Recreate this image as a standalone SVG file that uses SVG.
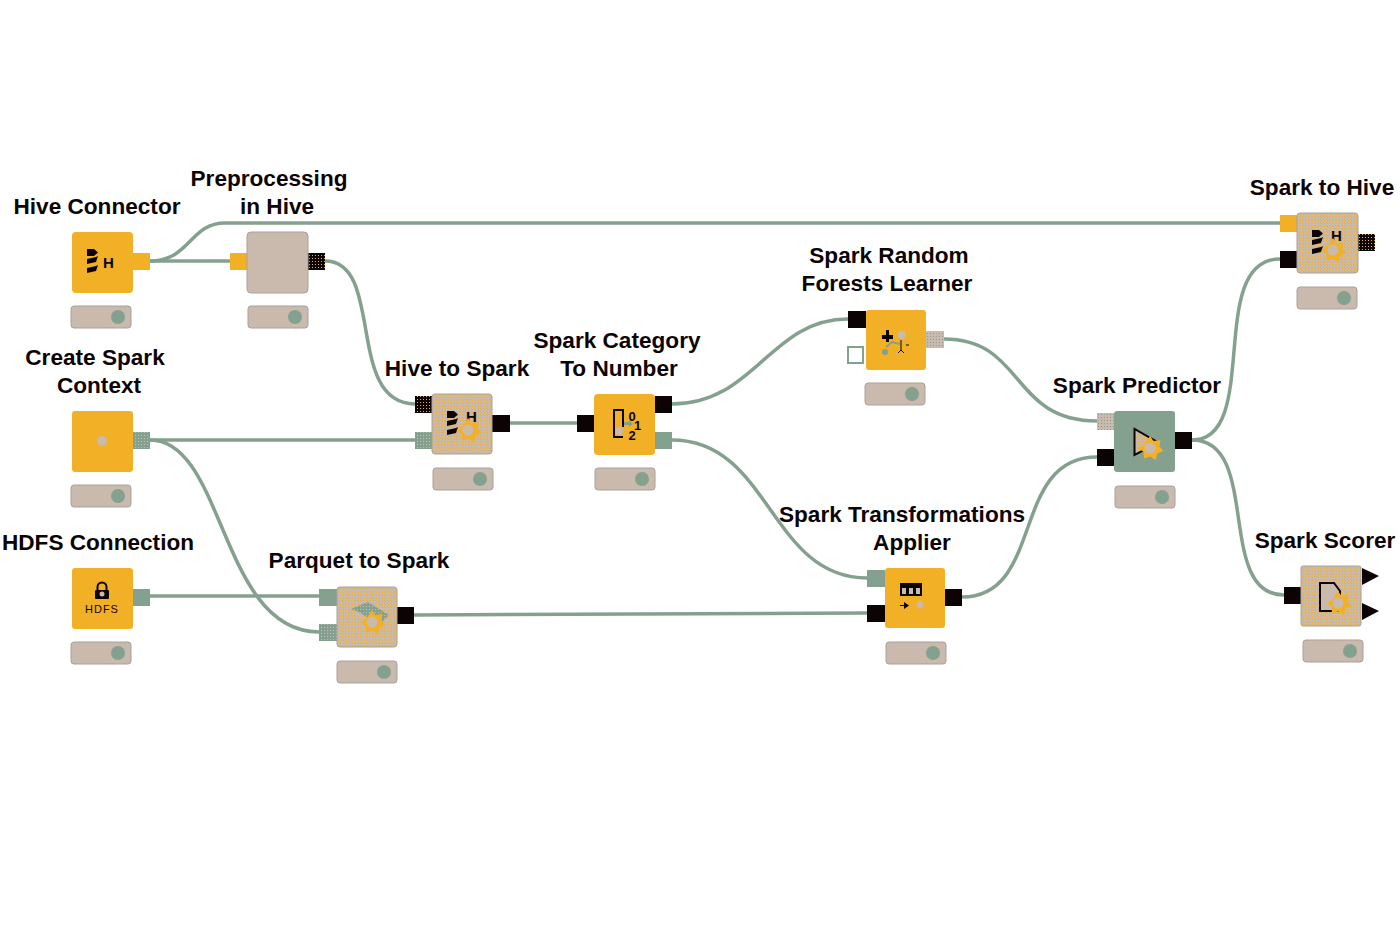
<svg xmlns="http://www.w3.org/2000/svg" width="1400" height="933" viewBox="0 0 1400 933">
<style>
text{font-family:"Liberation Sans",Arial,sans-serif;font-weight:700;font-size:22.6px;fill:#0c0404;text-anchor:middle}
.h{font-size:15px;font-weight:700}
.n{font-size:13px;font-weight:700}
.c{fill:none;stroke:#84a08f;stroke-width:3.5}
.body{stroke:#a8a29a;stroke-width:1}
.o{fill:#f2b027}.b{fill:#c9baad}.g{fill:#84a08f}.k{fill:#0c0404}
.di{fill:url(#dith)}.dg{fill:url(#dgreen)}.db{fill:url(#dbeige)}.dk{fill:url(#ddark)}
.bar{fill:#c9baad;stroke:#a8a29a;stroke-width:1}
.ic{fill:#0c0404}.ln{fill:none;stroke:#0c0404;stroke-width:2}
</style>
<defs>
<pattern id="dith" width="3" height="3" patternUnits="userSpaceOnUse"><rect width="3" height="3" fill="#c9baad"/><rect width="1" height="1" fill="#f2b027" shape-rendering="crispEdges"/><rect x="1" y="1" width="1" height="1" fill="#f2b027" shape-rendering="crispEdges"/></pattern>
<pattern id="dgreen" width="3" height="3" patternUnits="userSpaceOnUse"><rect width="3" height="3" fill="#84a08f"/><rect width="1" height="1" fill="#c9baad"/></pattern>
<pattern id="dbeige" width="3" height="3" patternUnits="userSpaceOnUse"><rect width="3" height="3" fill="#c9baad"/><rect width="1" height="1" fill="#84a08f"/></pattern>
<pattern id="ddark" width="3" height="3" patternUnits="userSpaceOnUse"><rect width="3" height="3" fill="#0c0404"/><rect width="1" height="1" fill="#f2b027"/></pattern>
<g id="hive"><path class="ic" d="M-15-13h7l4 3.500-4 3.500h-7z"/><path class="ic" d="M-15-3l9-2 2-1-2 6-9 2z"/><path class="ic" d="M-15 6l9-2 2-1-2 6-9 2z"/></g>
<g id="star"><path class="o" d="M0-12l3.500 5 7-1-1 6.500 4 4.500-6 2.500-2 6.500-5.500-3.500-6 2-.5-6.500-5-4 5.500-3z"/><circle r="5.500" fill="#c9baad"/></g>
<g id="bar"><rect class="bar" x="0" y="0" width="60" height="22" rx="3"/><circle class="g" cx="47" cy="11" r="7"/></g>
</defs>

<g id="connectors">
<path class="c" d="M150 261H230"/>
<path class="c" d="M150 261C190 261 190 223 225 223H1280"/>
<path class="c" d="M325 261C385 261 345 404 415 404"/>
<path class="c" d="M150 440H415"/>
<path class="c" d="M150 440C225 440 220 632 319 632"/>
<path class="c" d="M150 596H319"/>
<path class="c" d="M414 615L867 613"/>
<path class="c" d="M510 423H577"/>
<path class="c" d="M672 404C755 404 770 319 848 319"/>
<path class="c" d="M672 440C770 440 770 578 867 578"/>
<path class="c" d="M944 339C1025 339 1010 421 1097 421"/>
<path class="c" d="M962 597C1045 597 1010 457 1097 457"/>
<path class="c" d="M1192 440C1262 440 1205 259 1280 259"/>
<path class="c" d="M1192 440C1262 440 1215 595 1284 595"/>
</g>

<g id="hive-connector">
<text x="97" y="213.500">Hive Connector</text>
<rect class="o" x="133" y="253" width="17" height="17"/>
<rect class="o" x="72" y="232" width="61" height="61" rx="4"/>
<use href="#hive" x="102" y="262"/><text class="h" x="108.500" y="268">H</text>
<use href="#bar" x="71" y="306"/>
</g>
<g id="preprocessing-in-hive">
<text x="269" y="186">Preprocessing</text><text x="277" y="213.500">in Hive</text>
<rect class="o" x="230" y="253" width="17" height="17"/>
<rect class="dk" x="308" y="253" width="17" height="17"/>
<rect class="b body" x="247" y="232" width="61" height="61" rx="4"/>
<use href="#bar" x="248" y="306"/>
</g>
<g id="create-spark-context">
<text x="95" y="365">Create Spark</text><text x="99" y="392.500">Context</text>
<rect class="dg" x="133" y="432" width="17" height="17"/>
<rect class="o" x="72" y="411" width="61" height="61" rx="3"/>
<circle cx="102" cy="441" r="5" fill="#c9baad"/>
<use href="#bar" x="71" y="485"/>
</g>
<g id="hdfs-connection">
<text x="98" y="549.500">HDFS Connection</text>
<rect class="g" x="133" y="589" width="17" height="17"/>
<rect class="o" x="72" y="568" width="61" height="61" rx="3"/>
<path class="ln" d="M97.500 590v-3a4.500 4.500 0 0 1 9 0v3"/><rect class="ic" x="95" y="590" width="14" height="9" rx="1"/><circle cx="102" cy="594" r="2.500" fill="#c9baad"/>
<text class="h" x="102" y="613" style="font-size:11px;letter-spacing:1px;font-weight:400">HDFS</text>
<use href="#bar" x="71" y="642"/>
</g>
<g id="parquet-to-spark">
<text x="359" y="568">Parquet to Spark</text>
<rect class="g" x="319" y="589" width="18" height="17"/>
<rect class="dg" x="319" y="624" width="18" height="17"/>
<rect class="k" x="397" y="607" width="17" height="17"/>
<rect class="di body" x="337" y="587" width="60" height="60" rx="3"/>
<path class="dg" d="M368 602l21 13-10 10-20-13-8-3z"/>
<use href="#star" x="372" y="622"/>
<use href="#bar" x="337" y="661"/>
</g>
<g id="hive-to-spark">
<text x="457" y="376">Hive to Spark</text>
<rect class="dk" x="415" y="396" width="17" height="17"/>
<rect class="dg" x="415" y="432" width="17" height="17"/>
<rect class="k" x="492" y="415" width="18" height="17"/>
<rect class="di body" x="432" y="394" width="60" height="60" rx="3"/>
<use href="#hive" x="462" y="424"/><text class="h" x="471.500" y="422">H</text>
<use href="#star" x="468" y="430"/>
<use href="#bar" x="433" y="468"/>
</g>
<g id="spark-category-to-number">
<text x="617" y="348">Spark Category</text><text x="619" y="376">To Number</text>
<rect class="k" x="577" y="415" width="17" height="17"/>
<rect class="k" x="655" y="396" width="17" height="17"/>
<rect class="g" x="655" y="432" width="17" height="17"/>
<rect class="o" x="594" y="394" width="61" height="61" rx="4"/>
<path class="ln" d="M623 427v-17h-9v27h9"/>
<circle cx="619" cy="431" r="4" fill="#c9baad"/>
<path class="g" d="M624 422h5v-2l4 4-4 3v-2h-5z"/>
<text class="n" x="632" y="421">0</text><text class="n" x="637.500" y="430">1</text><text class="n" x="632" y="440">2</text>
<use href="#bar" x="595" y="468"/>
</g>
<g id="spark-random-forests-learner">
<text x="889" y="263">Spark Random</text><text x="887" y="291">Forests Learner</text>
<rect class="k" x="848" y="311" width="18" height="17"/>
<rect x="848" y="347" width="15" height="16" fill="#fff" stroke="#84a08f" stroke-width="2"/>
<rect class="db" x="926" y="331" width="18" height="17"/>
<rect class="o" x="866" y="310" width="60" height="60" rx="3"/>
<path class="ic" d="M882 335h4v-5h3v5h4v4h-4v3h-3v-3h-4z"/>
<circle cx="902" cy="335" r="4" fill="#c9baad"/>
<path fill="none" stroke="#84a08f" stroke-width="2" d="M886 347l6-5 8 2"/>
<circle cx="885" cy="352" r="3" fill="#84a08f"/>
<path fill="none" stroke="#0c0404" d="M901 340v10l-3 3m3-3l3 3M906 345h3"/>
<use href="#bar" x="865" y="383"/>
</g>
<g id="spark-predictor">
<text x="1137" y="393">Spark Predictor</text>
<rect class="db" x="1097" y="413" width="17" height="17"/>
<rect class="k" x="1097" y="449" width="17" height="17"/>
<rect class="k" x="1175" y="432" width="17" height="17"/>
<rect class="g" x="1114" y="411" width="61" height="61" rx="3"/>
<path fill="url(#dith)" stroke="#0c0404" stroke-width="2" d="M1134.500 429v26l10-5 11-9z"/>
<use href="#star" x="1150" y="448"/>
<use href="#bar" x="1115" y="486"/>
</g>
<g id="spark-transformations-applier">
<text x="902" y="522">Spark Transformations</text><text x="912" y="549.500">Applier</text>
<rect class="g" x="867" y="570" width="18" height="17"/>
<rect class="k" x="867" y="605" width="18" height="17"/>
<rect class="k" x="945" y="589" width="17" height="17"/>
<rect class="o" x="885" y="568" width="60" height="60" rx="3"/>
<rect class="ic" x="900" y="583" width="22" height="13"/>
<path fill="#c9baad" d="M902 588h4v6h-4zM909 588h4v6h-4zM916 588h4v6h-4z"/>
<path class="ic" d="M900 605h4v-3l5 3.500-5 3.500v-3h-4z"/>
<circle cx="920" cy="605" r="3.500" fill="#c9baad"/>
<use href="#bar" x="886" y="642"/>
</g>
<g id="spark-to-hive">
<text x="1322" y="195">Spark to Hive</text>
<rect class="o" x="1280" y="215" width="17" height="17"/>
<rect class="k" x="1280" y="251" width="17" height="17"/>
<rect class="dk" x="1358" y="234" width="17" height="17"/>
<rect class="di body" x="1297" y="213" width="61" height="60" rx="3"/>
<use href="#hive" x="1327" y="243"/><text class="h" x="1336.500" y="241">H</text>
<use href="#star" x="1333" y="250"/>
<use href="#bar" x="1297" y="287"/>
</g>
<g id="spark-scorer">
<text x="1325" y="547.500">Spark Scorer</text>
<rect class="k" x="1284" y="587" width="17" height="17"/>
<path class="k" d="M1362 568l17 8-17 9zM1362 603l17 8-17 9z"/>
<rect class="di body" x="1301" y="566" width="60" height="60" rx="2"/>
<path fill="#c9baad" stroke="#0c0404" stroke-width="2" d="M1320 583h14l6 8v20h-20z"/>
<use href="#star" x="1338" y="603"/>
<use href="#bar" x="1303" y="640"/>
</g>
</svg>
